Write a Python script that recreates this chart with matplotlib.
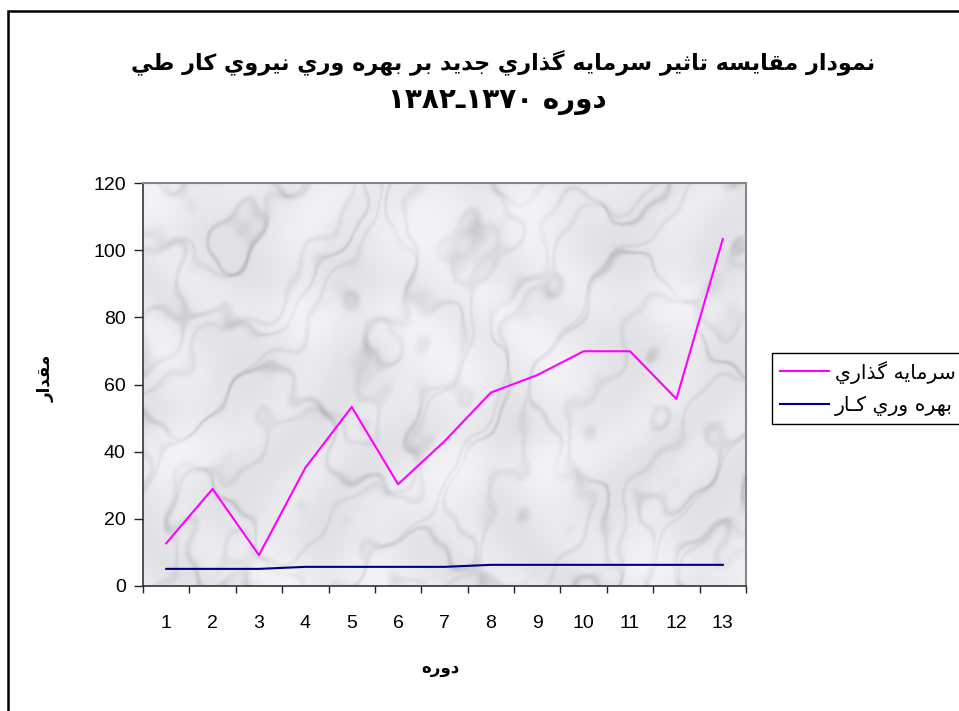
import numpy as np
import matplotlib
matplotlib.use("Agg")
import matplotlib.pyplot as plt
from matplotlib.lines import Line2D
from matplotlib.patches import Rectangle

# ---- data -------------------------------------------------------------
periods = list(range(1, 14))
investment = [12.7, 28.9, 9.2, 35.2, 53.3, 30.3, 43.1, 57.6, 62.8, 69.9, 69.9, 55.7, 103.3]
productivity = [5.1, 5.1, 5.1, 5.7, 5.7, 5.7, 5.7, 6.3, 6.3, 6.3, 6.3, 6.3, 6.3]
y_ticks = [0, 20, 40, 60, 80, 100, 120]

title_lines = ["نمودار مقايسه تاثير سرمايه گذاري جديد بر بهره وري نيروي كار طي",
               "دوره ١٣٧٠ـ١٣٨٢"]
series_names = ["سرمايه گذاري", "بهره وري كـار"]
x_label = "دوره"
y_label = "مقدار"

# ---- minimal Arabic shaping (isolated, final, initial, medial) ---------
FORMS = {
    "ا": ("\uFE8D", "\uFE8E", None, None),
    "ب": ("\uFE8F", "\uFE90", "\uFE91", "\uFE92"),
    "ت": ("\uFE95", "\uFE96", "\uFE97", "\uFE98"),
    "ث": ("\uFE99", "\uFE9A", "\uFE9B", "\uFE9C"),
    "ج": ("\uFE9D", "\uFE9E", "\uFE9F", "\uFEA0"),
    "د": ("\uFEA9", "\uFEAA", None, None),
    "ذ": ("\uFEAB", "\uFEAC", None, None),
    "ر": ("\uFEAD", "\uFEAE", None, None),
    "س": ("\uFEB1", "\uFEB2", "\uFEB3", "\uFEB4"),
    "ط": ("\uFEC1", "\uFEC2", "\uFEC3", "\uFEC4"),
    "ق": ("\uFED5", "\uFED6", "\uFED7", "\uFED8"),
    "ك": ("\uFED9", "\uFEDA", "\uFEDB", "\uFEDC"),
    "م": ("\uFEE1", "\uFEE2", "\uFEE3", "\uFEE4"),
    "ن": ("\uFEE5", "\uFEE6", "\uFEE7", "\uFEE8"),
    "ه": ("\uFEE9", "\uFEEA", "\uFEEB", "\uFEEC"),
    "و": ("\uFEED", "\uFEEE", None, None),
    "ي": ("\uFEF1", "\uFEF2", "\uFEF3", "\uFEF4"),
    "گ": ("\uFB92", "\uFB93", "\uFB94", "\uFB95"),
}
TATWEEL = "ـ"


def joins_forward(c):
    return c == TATWEEL or (c in FORMS and FORMS[c][2] is not None)


def joins_back(c):
    return c == TATWEEL or c in FORMS


def shape(text):
    out = []
    for i, c in enumerate(text):
        if c not in FORMS:
            out.append(c)
            continue
        prev = text[i - 1] if i > 0 else None
        nxt = text[i + 1] if i + 1 < len(text) else None
        jp = prev is not None and joins_forward(prev)
        jn = nxt is not None and joins_back(nxt) and joins_forward(c)
        iso, fin, ini, med = FORMS[c]
        if jp and jn:
            out.append(med)
        elif jp:
            out.append(fin)
        elif jn:
            out.append(ini)
        else:
            out.append(iso)
    return "".join(out)


def visual(text):
    """Shape, lay out right-to-left, keep digit runs left-to-right."""
    rev = shape(text)[::-1]
    res, run = [], []
    for ch in rev:
        if ch.isdigit():
            run.append(ch)
        else:
            res.extend(run[::-1])
            run = []
            res.append(ch)
    res.extend(run[::-1])
    return "".join(res)


AR_FONT = ["DejaVu Sans"]
LAT_FONT = ["Liberation Sans", "DejaVu Sans"]

W, H = 959, 711
fig = plt.figure(figsize=(W / 100, H / 100), dpi=100)
fig.patch.set_facecolor("white")

left, right, top, bottom = 143, 746, 183, 586
ax = fig.add_axes([left / W, 1 - bottom / H, (right - left) / W, (bottom - top) / H])

# soft marble-like plot background built from smooth layered waves
gx, gy = np.meshgrid(np.linspace(0, 1.5, 900), np.linspace(0, 1, 600))
waves = [(5, 3, 0.3, 1.0), (9, -7, 1.7, 0.6), (17, 13, 2.9, 0.4), (27, -21, 4.1, 0.25),
         (41, 33, 0.6, 0.15), (59, -49, 5.2, 0.1)]
turb = sum(a * np.sin(kx * gx + ky * gy + ph) for kx, ky, ph, a in waves)
m1 = np.sin(7.0 * (gx - 0.8 * gy) + 2.2 * turb)
m2 = np.sin(16.0 * (gx - 0.7 * gy) + 1.6 * turb + 1.3)
cloud = np.sin(13 * gx + 2.0 * np.sin(9 * gy)) * np.sin(11 * gy + 2.0 * np.sin(7 * gx))
lum = (0.915
       - 0.11 * np.exp(-m1 ** 2 / 0.06) * (0.6 + 0.4 * cloud)
       - 0.05 * np.exp(-m2 ** 2 / 0.04)
       - 0.035 * cloud)
tex = np.dstack([lum, lum, lum + 0.02]).clip(0, 1)
ax.imshow(tex, extent=(0.5, 13.5, 0, 120), aspect="auto", origin="lower",
          interpolation="bilinear", zorder=0)

ax.plot(periods, investment, color="#FF00FF", lw=1.5, zorder=3)
ax.plot(periods, productivity, color="#000080", lw=1.5, zorder=3)

ax.set_xlim(0.5, 13.5)
ax.set_ylim(0, 120)
ax.set_yticks(y_ticks)
ax.set_yticklabels([str(v) for v in y_ticks])
ax.set_xticks(np.arange(0.5, 14.0, 1.0))
ax.set_xticklabels([])
ax.set_xticks(periods, minor=True)
ax.set_xticklabels([str(p) for p in periods], minor=True)
ax.tick_params(axis="x", which="major", direction="out", length=5, width=1, color="#222222")
ax.tick_params(axis="x", which="minor", length=0, pad=21, labelsize=14)
ax.tick_params(axis="y", direction="out", length=6.5, width=1, color="#222222", pad=6, labelsize=14)
for lbl in ax.get_xticklabels(minor=True) + ax.get_yticklabels():
    lbl.set_family(LAT_FONT)
for s in ("left", "bottom"):
    ax.spines[s].set_color("#333333")
    ax.spines[s].set_linewidth(1.2)
for s in ("top", "right"):
    ax.spines[s].set_color("#888888")
    ax.spines[s].set_linewidth(1.5)

# titles and axis captions
fig.text(503 / W, 1 - 62 / H, visual(title_lines[0]), ha="center", va="center",
         fontsize=16, fontweight="bold", family=AR_FONT)
fig.text(497 / W, 1 - 101 / H, visual(title_lines[1]), ha="center", va="center",
         fontsize=20, fontweight="bold", family=AR_FONT)
fig.text(440 / W, 1 - 668 / H, visual(x_label), ha="center", va="center",
         fontsize=12, fontweight="bold", family=AR_FONT)
fig.text(46 / W, 1 - 378 / H, visual(y_label), ha="center", va="center", rotation=90,
         fontsize=12, fontweight="bold", family=AR_FONT)

# legend
handles = [Line2D([], [], color="#FF00FF", lw=1.5), Line2D([], [], color="#000080", lw=1.5)]
leg = ax.legend(handles, [visual(n) for n in series_names], loc="upper left",
                bbox_to_anchor=(772 / W, 1 - 353 / H), bbox_transform=fig.transFigure,
                frameon=True, fancybox=False, edgecolor="black", framealpha=1,
                prop={"family": AR_FONT, "size": 14.7}, handlelength=2.4,
                handletextpad=0.3, labelspacing=0.62, borderpad=0.38, borderaxespad=0)
leg.get_frame().set_linewidth(1.0)

# outer chart border
fig.add_artist(Rectangle((8 / W, -0.05), 1.2, 1 - 11 / H + 0.05, transform=fig.transFigure,
                         fill=False, ec="black", lw=1.8))

fig.savefig("out.png", dpi=100)
